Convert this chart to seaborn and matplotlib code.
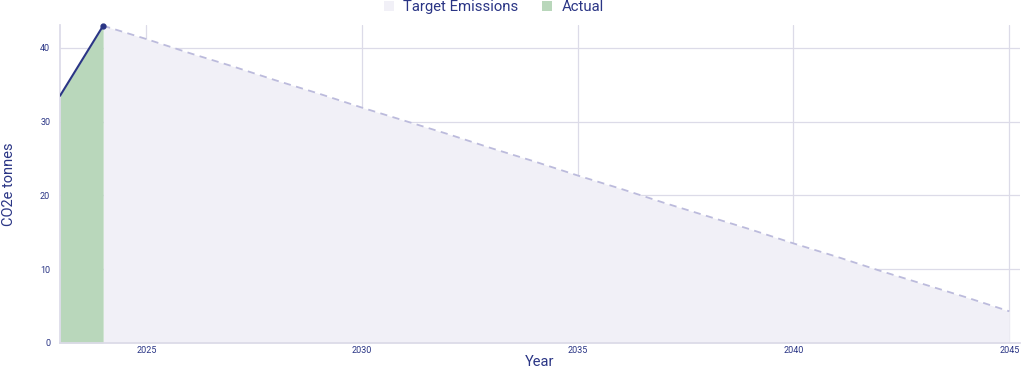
import matplotlib
matplotlib.use("Agg")
import matplotlib.pyplot as plt
from matplotlib.patches import Patch
import seaborn as sns
import pandas as pd

actual_years = [2023, 2024]
actual_values = [33.5, 43.0]

target_years = list(range(2024, 2046))
target_values = [43.0, 41.2, 39.3, 37.5, 35.6, 33.8, 31.9, 30.1, 28.3, 26.4, 24.6,
                 22.7, 20.9, 19.0, 17.2, 15.4, 13.5, 11.7, 9.8, 8.0, 6.2, 4.3]

x_ticks = [2025, 2030, 2035, 2040, 2045]
y_ticks = [0, 10, 20, 30, 40]

sns.set_theme(style="white")
plt.rcParams['font.family'] = ['Roboto', 'DejaVu Sans']

navy = "#2a3585"
green_fill = "#b9d7bb"
lav_fill = "#f1f0f7"
dash_col = "#bcbbdc"
grid_col = "#dcdbe8"

fig = plt.figure(figsize=(10.24, 3.69), dpi=100)
ax = fig.add_axes([60/1024, (369-343)/369, (1020-60)/1024, (343-25)/369])

dfa = pd.DataFrame({"year": actual_years, "value": actual_values})
dft = pd.DataFrame({"year": target_years, "value": target_values})

ax.fill_between(dft["year"], dft["value"], 0, color=lav_fill, zorder=1, linewidth=0)
ax.fill_between(dfa["year"], dfa["value"], 0, color=green_fill, zorder=2, linewidth=0)
sns.lineplot(data=dft, x="year", y="value", ax=ax, color=dash_col, linestyle=(0, (4, 3)),
             linewidth=1.3, zorder=3)
sns.lineplot(data=dfa, x="year", y="value", ax=ax, color=navy, linewidth=1.5, zorder=4)
ax.plot([actual_years[-1]], [actual_values[-1]], marker="o", markersize=3.5, color=navy,
        zorder=5, clip_on=False)

ax.set_xlim(2023, 2045.25)
ax.set_ylim(0, 43.1)
ax.set_xticks(x_ticks)
ax.set_yticks(y_ticks)
ax.set_xticklabels([str(t) for t in x_ticks])
ax.grid(True, color=grid_col, linewidth=0.9, zorder=0)
ax.set_axisbelow(True)

for s in ["top", "right"]:
    ax.spines[s].set_visible(False)
ax.spines["left"].set_color(grid_col)
ax.spines["bottom"].set_color(grid_col)
ax.tick_params(axis="both", colors=grid_col, labelcolor=navy, labelsize=6.5, length=4,
               width=0.8, direction="out", pad=3)
ax.tick_params(axis="x", length=0, pad=2)

ax.set_xlabel("Year", color=navy, fontsize=10.5, labelpad=0)
ax.set_ylabel("CO2e tonnes", color=navy, fontsize=10.5, labelpad=17)

handles = [Patch(facecolor=lav_fill, edgecolor="none", label="Target Emissions"),
           Patch(facecolor=green_fill, edgecolor="none", label="Actual")]
fig.legend(handles=handles, loc="upper center", bbox_to_anchor=(0.482, 1.035), ncol=2,
           frameon=False, fontsize=10.7, labelcolor=navy, handlelength=0.7, handleheight=0.7,
           handletextpad=0.6, columnspacing=1.6)

fig.savefig("out.png", dpi=100)
